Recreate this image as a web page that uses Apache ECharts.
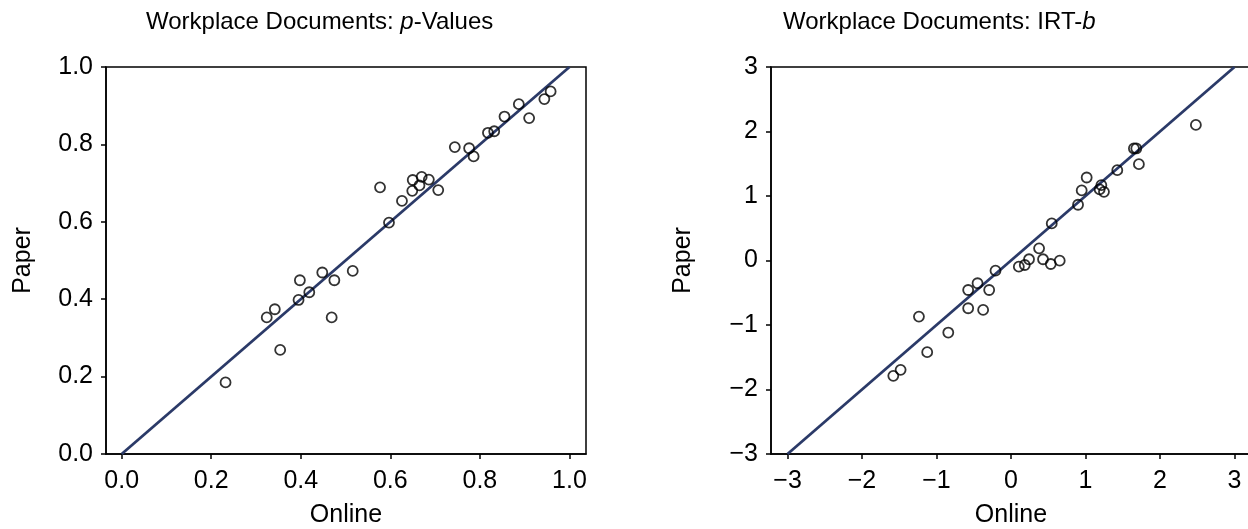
<!DOCTYPE html>
<html>
<head>
<meta charset="utf-8">
<script src="https://cdn.jsdelivr.net/npm/echarts@6/dist/echarts.min.js"></script>
<style>
  html, body { margin: 0; padding: 0; background: #fff; }
  #chart { width: 1248px; height: 529px; }
</style>
</head>
<body>
<div id="chart"></div>
<script>
// Item statistics, online vs. paper administration
// p-values (left panel)
const onlineP = [0.232, 0.324, 0.342, 0.354, 0.395, 0.398, 0.419, 0.448, 0.469, 0.475,
                 0.516, 0.577, 0.597, 0.626, 0.650, 0.649, 0.665, 0.670, 0.686, 0.707,
                 0.744, 0.776, 0.786, 0.818, 0.832, 0.855, 0.887, 0.910, 0.944, 0.958];
const paperP  = [0.185, 0.353, 0.374, 0.269, 0.398, 0.449, 0.418, 0.469, 0.353, 0.449,
                 0.473, 0.689, 0.598, 0.654, 0.708, 0.680, 0.694, 0.716, 0.709, 0.682,
                 0.793, 0.790, 0.769, 0.830, 0.834, 0.872, 0.904, 0.868, 0.917, 0.937];
// IRT b-parameters (right panel)
const onlineB = [-1.580, -1.482, -1.236, -1.125, -0.842, -0.575, -0.575, -0.449, -0.374, -0.293,
                 -0.208, 0.105, 0.185, 0.242, 0.377, 0.430, 0.534, 0.654, 0.547, 0.900,
                 0.949, 1.016, 1.190, 1.213, 1.248, 1.427, 1.650, 1.682, 1.717, 2.482];
const paperB  = [-1.788, -1.695, -0.870, -1.421, -1.117, -0.457, -0.740, -0.353, -0.766, -0.457,
                 -0.158, -0.096, -0.070, 0.019, 0.189, 0.019, -0.054, -0.003, 0.575, 0.864,
                 1.086, 1.287, 1.102, 1.168, 1.065, 1.401, 1.737, 1.737, 1.494, 2.102];

// Identity lines (online = paper)
const identityP = [[0, 0], [1, 1]];
const identityB = [[-3, -3], [3, 3]];

// Tick values
const ticksP = [0, 0.2, 0.4, 0.6, 0.8, 1.0];
const ticksB = [-3, -2, -1, 0, 1, 2, 3];

const zip = (xs, ys) => xs.map((x, i) => [x, ys[i]]);

const FONT = '"Liberation Sans", Arial, sans-serif';
const TXT = '#000';
const LINE = '#2b3a68';
const fmtP = v => v.toFixed(1);
const fmtB = v => String(v).replace('-', '\u2212');

function axisBase(extra) {
  return Object.assign({
    type: 'value',
    axisLine: { show: true, onZero: false, lineStyle: { color: '#000', width: 1.5 } },
    axisTick: { show: true, inside: false, length: 5, lineStyle: { color: '#000', width: 1.5 } },
    splitLine: { show: false },
    nameLocation: 'middle',
    nameTextStyle: { fontFamily: FONT, fontSize: 25, color: TXT }
  }, extra);
}

function labelStyle(extra) {
  return Object.assign({ fontFamily: FONT, fontSize: 25, color: TXT }, extra);
}

const markerStyle = { color: 'rgba(255,255,255,0)', borderColor: '#000', borderWidth: 1.8 };

const gridBase = {
  top: 67, width: 480, height: 387, show: true,
  borderColor: '#000', borderWidth: 1.5, backgroundColor: '#fff',
  containLabel: false, outerBoundsMode: 'none'
};

const chart = echarts.init(document.getElementById('chart'), null, { renderer: 'canvas' });

chart.setOption({
  animation: false,
  backgroundColor: '#fff',
  title: [
    {
      text: 'Workplace Documents: {i|p}-Values',
      left: 141, top: 5,
      textStyle: { fontFamily: FONT, fontSize: 24, fontWeight: 'normal', color: TXT,
                   rich: { i: { fontFamily: FONT, fontSize: 24, fontStyle: 'italic', color: TXT } } }
    },
    {
      text: 'Workplace Documents: IRT-{i|b}',
      left: 778, top: 5,
      textStyle: { fontFamily: FONT, fontSize: 24, fontWeight: 'normal', color: TXT,
                   rich: { i: { fontFamily: FONT, fontSize: 24, fontStyle: 'italic', color: TXT } } }
    }
  ],
  grid: [
    Object.assign({ left: 106 }, gridBase),
    Object.assign({ left: 771 }, gridBase)
  ],
  xAxis: [
    axisBase({
      gridIndex: 0, min: -0.035, max: 1.037,
      name: 'Online', nameGap: 49,
      axisTick: { show: true, length: 5, customValues: ticksP, lineStyle: { color: '#000', width: 1.5 } },
      axisLabel: labelStyle({ customValues: ticksP, formatter: fmtP, margin: 15 })
    }),
    axisBase({
      gridIndex: 1, min: -3.222, max: 3.222,
      name: 'Online', nameGap: 49,
      axisTick: { show: true, length: 5, customValues: ticksB, lineStyle: { color: '#000', width: 1.5 } },
      axisLabel: labelStyle({ customValues: ticksB, formatter: fmtB, margin: 15 })
    })
  ],
  yAxis: [
    axisBase({
      gridIndex: 0, min: 0, max: 1, interval: 0.2,
      name: 'Paper', nameGap: 70,
      axisLabel: labelStyle({ formatter: fmtP, margin: 13 })
    }),
    axisBase({
      gridIndex: 1, min: -3, max: 3, interval: 1,
      name: 'Paper', nameGap: 75,
      axisLabel: labelStyle({ formatter: fmtB, margin: 13 })
    })
  ],
  series: [
    {
      type: 'line', xAxisIndex: 0, yAxisIndex: 0, data: identityP,
      symbol: 'none', lineStyle: { color: LINE, width: 2.8 }, z: 2, silent: true
    },
    {
      type: 'scatter', xAxisIndex: 0, yAxisIndex: 0, data: zip(onlineP, paperP),
      symbol: 'circle', symbolSize: 10, itemStyle: markerStyle, z: 3
    },
    {
      type: 'line', xAxisIndex: 1, yAxisIndex: 1, data: identityB,
      symbol: 'none', lineStyle: { color: LINE, width: 2.8 }, z: 2, silent: true
    },
    {
      type: 'scatter', xAxisIndex: 1, yAxisIndex: 1, data: zip(onlineB, paperB),
      symbol: 'circle', symbolSize: 10, itemStyle: markerStyle, z: 3
    }
  ]
});
</script>
</body>
</html>
